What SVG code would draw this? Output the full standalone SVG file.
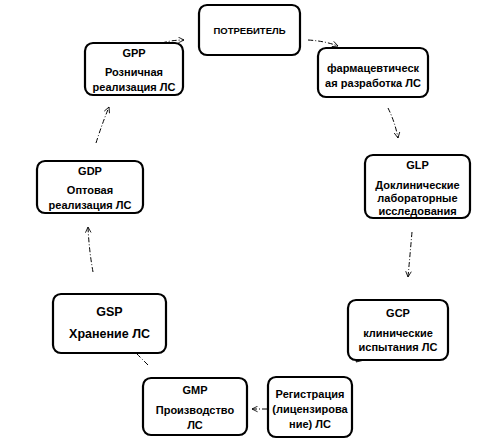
<svg xmlns="http://www.w3.org/2000/svg" width="500" height="440" viewBox="0 0 500 440">
<defs>
<marker id="ah" viewBox="0 0 10 10" refX="9" refY="5" markerWidth="7" markerHeight="7" orient="auto" markerUnits="userSpaceOnUse">
<path d="M1,1 L9,5 L1,9" fill="none" stroke="#000" stroke-width="1.2"/>
</marker>
</defs>
<style>
.box{fill:#fff;stroke:#000;stroke-width:2.2}
.t{font-family:"Liberation Sans",Arial,sans-serif;font-size:11px;font-weight:bold;fill:#000;text-anchor:middle}
.c{fill:none;stroke:#000;stroke-width:1;stroke-dasharray:5,2,1,2;marker-end:url(#ah)}
</style>
<rect width="500" height="440" fill="#fff"/>
<g id="connectors">
<path class="c" d="M162,43 Q172,40 184,40"/>
<path class="c" d="M308,40 Q325,41 338,46"/>
<path class="c" d="M388,108 Q395,122 398,138"/>
<path class="c" d="M412,232 Q410,255 408,277"/>
<path class="c" d="M370,353 Q362,357 356,362"/>
<path class="c" d="M267,409 L252,409"/>
<path class="c" d="M148,365 Q138,355 130,347"/>
<path class="c" d="M93,272 Q89,250 88,227"/>
<path class="c" d="M96,143 Q102,124 109,107"/>
</g>
<g id="consumer">
<rect class="box" x="199" y="5" width="101" height="50" rx="8"/>
<text class="t" x="249.5" y="34" style="font-size:9.5px">ПОТРЕБИТЕЛЬ</text>
</g>
<g id="pharm">
<rect class="box" x="318" y="48" width="110" height="49" rx="8"/>
<text class="t" x="373" y="72">фармацевтическ</text>
<text class="t" x="373" y="87">ая разработка ЛС</text>
</g>
<g id="glp">
<rect class="box" x="365" y="155" width="105" height="63" rx="8"/>
<text class="t" x="417.5" y="169">GLP</text>
<text class="t" x="417.5" y="189">Доклинические</text>
<text class="t" x="417.5" y="202">лабораторные</text>
<text class="t" x="417.5" y="215">исследования</text>
</g>
<g id="gcp">
<rect class="box" x="348" y="300" width="100" height="60" rx="8"/>
<text class="t" x="398" y="317">GCP</text>
<text class="t" x="398" y="337">клинические</text>
<text class="t" x="398" y="351">испытания ЛС</text>
</g>
<g id="registration">
<rect class="box" x="268" y="377" width="84" height="60" rx="8"/>
<text class="t" x="310" y="398">Регистрация</text>
<text class="t" x="310" y="413">(лицензирова</text>
<text class="t" x="310" y="428">ние) ЛС</text>
</g>
<g id="gmp">
<rect class="box" x="143" y="378" width="104" height="57" rx="8"/>
<text class="t" x="195" y="394">GMP</text>
<text class="t" x="195" y="414">Производство</text>
<text class="t" x="195" y="429">ЛС</text>
</g>
<g id="gsp">
<rect class="box" x="53" y="294" width="113" height="59" rx="8"/>
<text class="t" x="109.5" y="316" style="font-size:12.5px">GSP</text>
<text class="t" x="109.5" y="338" style="font-size:12.5px">Хранение ЛС</text>
</g>
<g id="gdp">
<rect class="box" x="37" y="161" width="106" height="52" rx="8"/>
<text class="t" x="90" y="175">GDP</text>
<text class="t" x="90" y="194">Оптовая</text>
<text class="t" x="90" y="209">реализация ЛС</text>
</g>
<g id="gpp">
<rect class="box" x="85" y="43" width="98" height="52" rx="8"/>
<text class="t" x="134" y="57">GPP</text>
<text class="t" x="134" y="76">Розничная</text>
<text class="t" x="134" y="91">реализация ЛС</text>
</g>
</svg>
